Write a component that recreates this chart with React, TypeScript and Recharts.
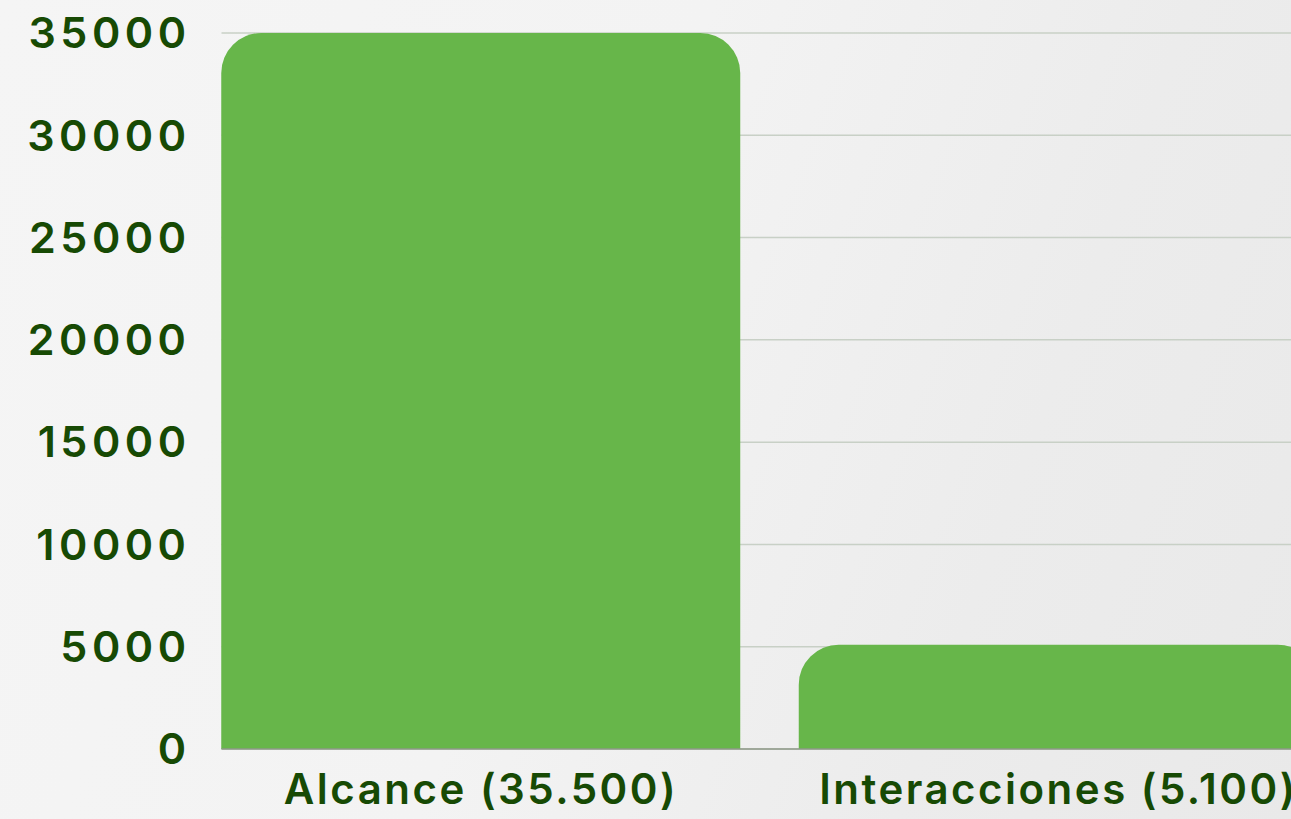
import React from 'react';
import { BarChart, Bar, XAxis, YAxis, CartesianGrid } from 'recharts';

const categories = ['Alcance (35.500)', 'Interacciones (5.100)'];
const values = [35000, 5100];
const yTicks = [0, 5000, 10000, 15000, 20000, 25000, 30000, 35000];

const data = categories.map((name, i) => ({ name, value: values[i] }));

const TEXT = '#174a04';
const FONT = 'Inter, "Noto Sans", sans-serif';

export default function App() {
  return (
    <div
      style={{
        position: 'fixed',
        left: 0,
        top: 0,
        width: 1291,
        height: 819,
        overflow: 'hidden',
        background: 'linear-gradient(110deg, #f5f5f5 0%, #f3f3f3 45%, #ececec 75%, #e9e9e9 100%)',
      }}
    >
      <BarChart
        width={1340}
        height={819}
        data={data}
        margin={{ top: 33, right: 22, bottom: 0, left: 0 }}
      >
        <CartesianGrid vertical={false} stroke="#c8d0c6" strokeWidth={1.5} />
        <XAxis
          dataKey="name"
          height={70}
          padding={{ left: -29.25, right: -29.25 }}
          tickLine={false}
          tickSize={0}
          tickMargin={25}
          axisLine={{ stroke: '#8e9889', strokeWidth: 1.5 }}
          tick={{ fill: TEXT, fontSize: 42, fontWeight: 600, fontFamily: FONT, letterSpacing: 2.5 }}
          interval={0}
        />
        <YAxis
          width={221.5}
          domain={[0, 35000]}
          ticks={yTicks}
          tickLine={false}
          axisLine={false}
          tickSize={0}
          tickMargin={31}
          tick={{ fill: TEXT, fontSize: 43, fontWeight: 600, fontFamily: FONT, letterSpacing: 4.5 }}
        />
        <Bar dataKey="value" fill="#67b64a" barSize={519} radius={[40, 40, 0, 0]} isAnimationActive={false} />
      </BarChart>
    </div>
  );
}
